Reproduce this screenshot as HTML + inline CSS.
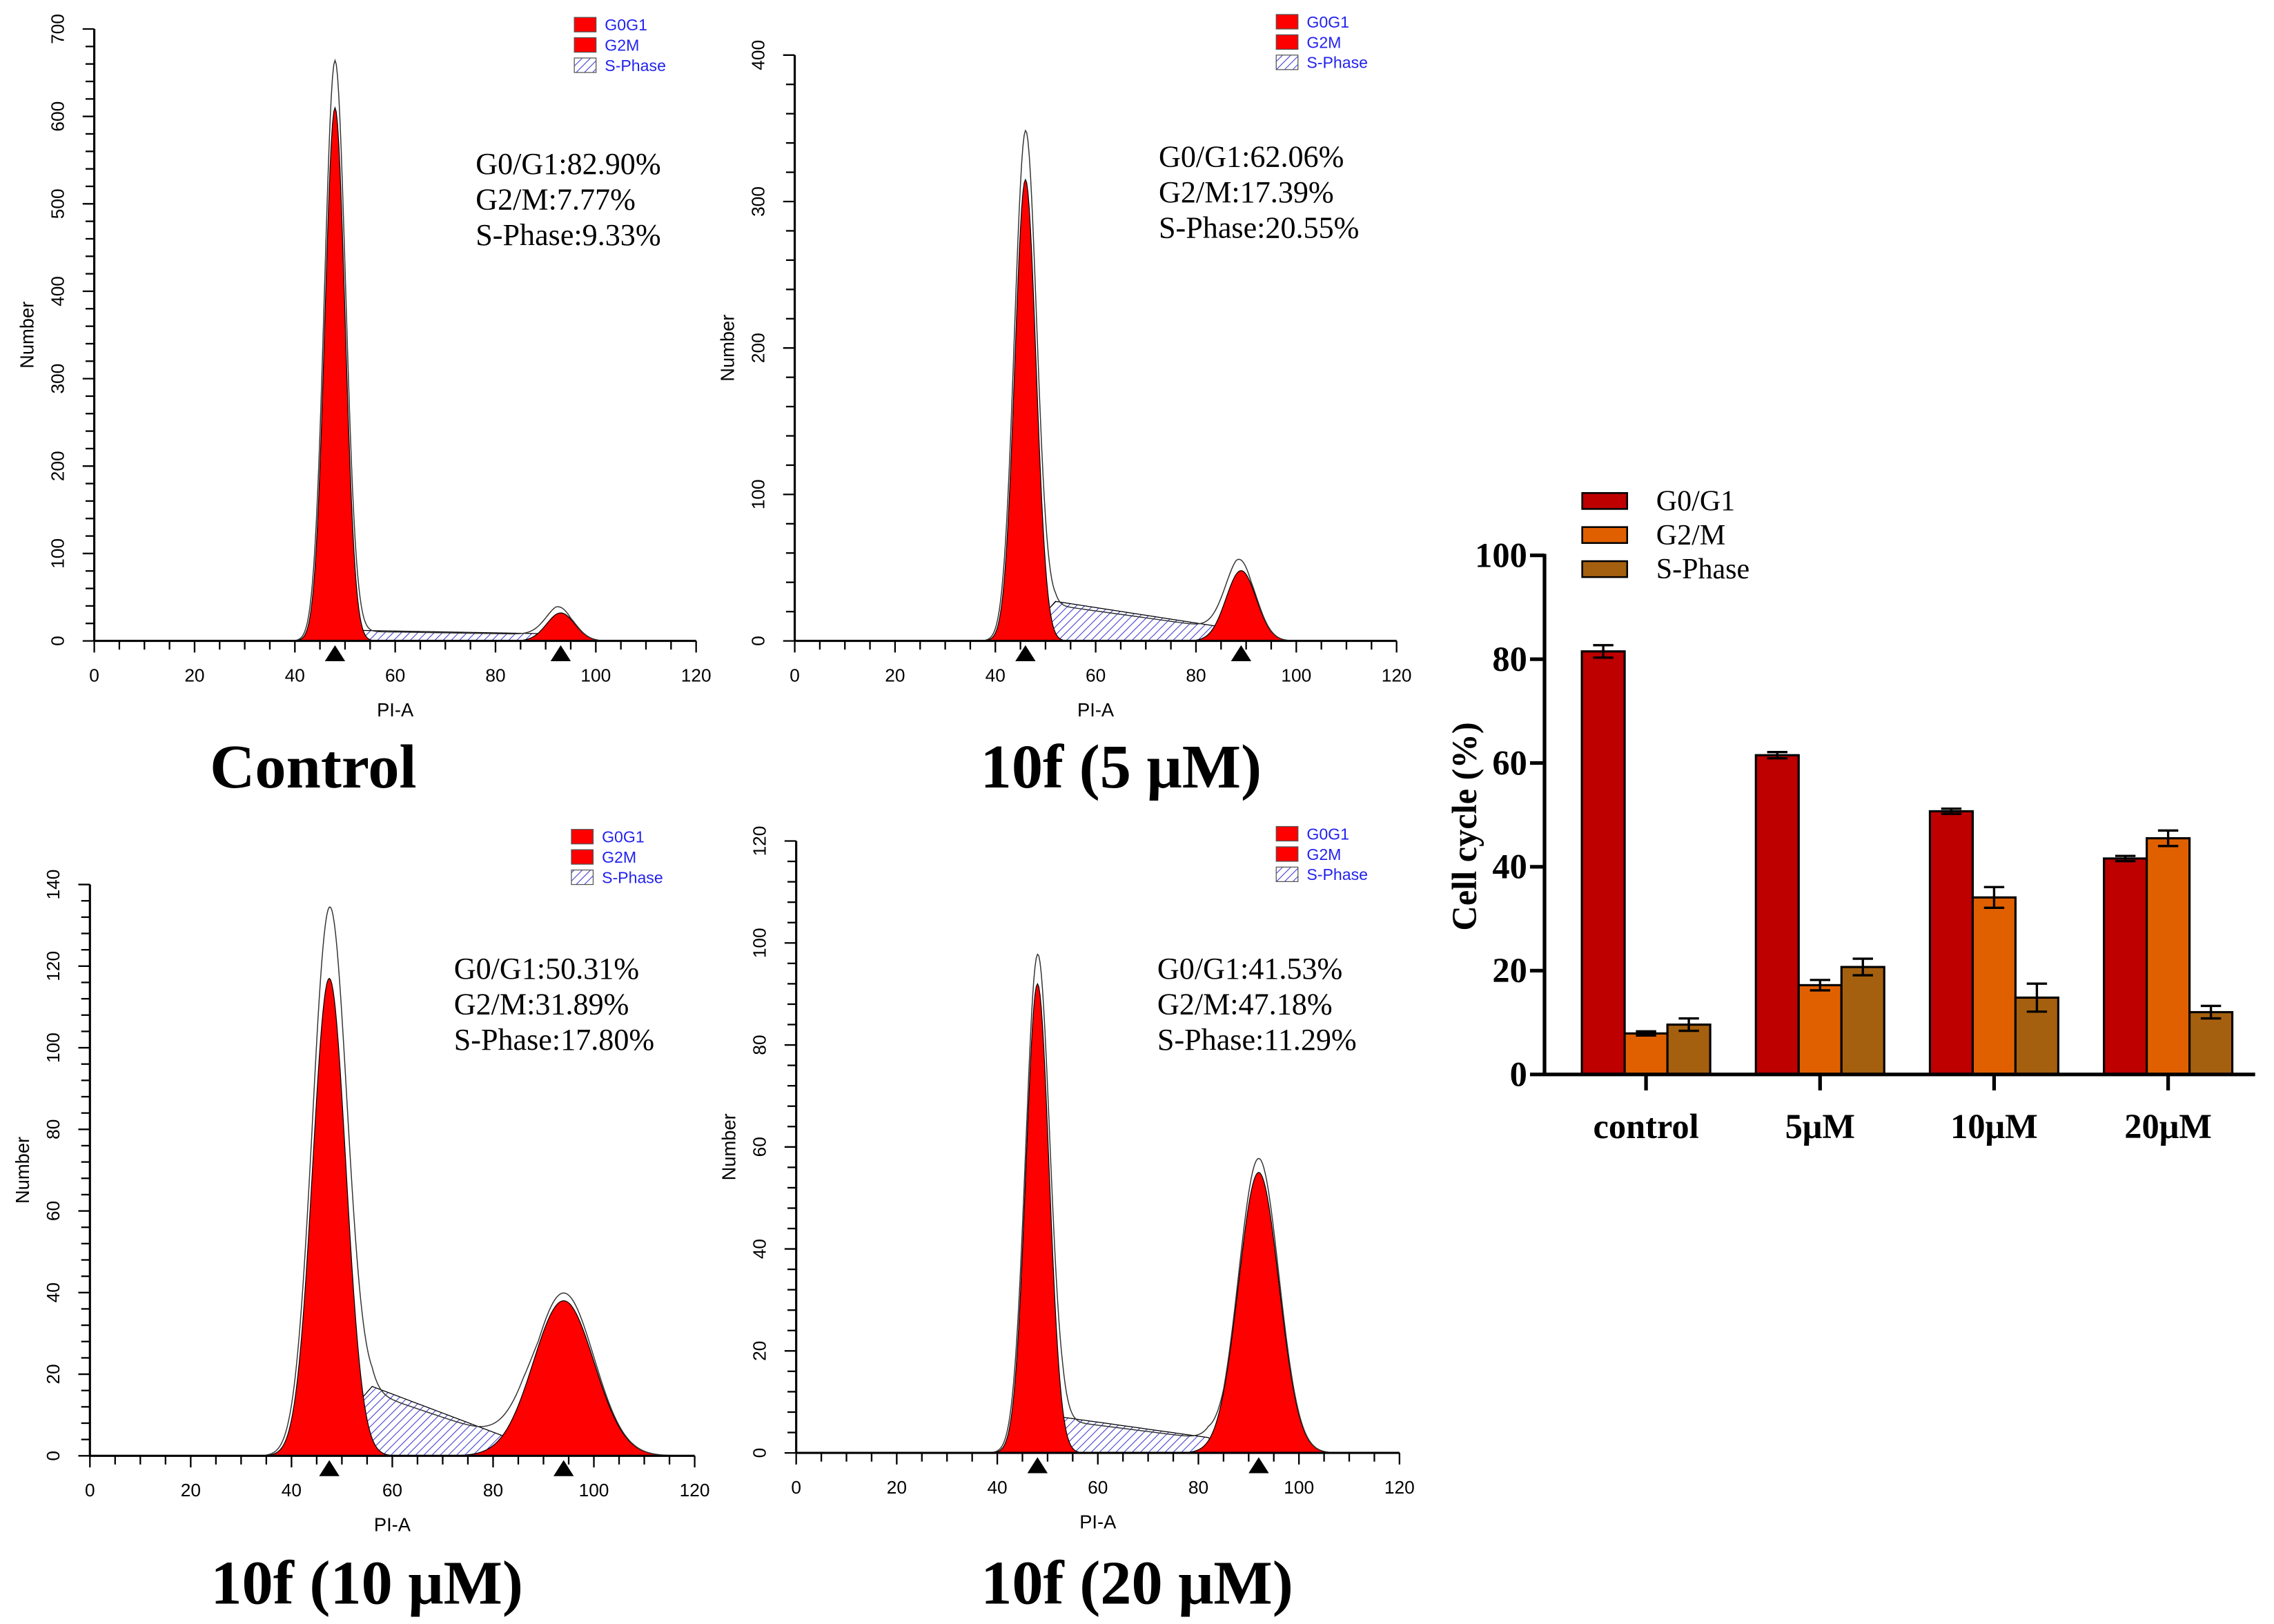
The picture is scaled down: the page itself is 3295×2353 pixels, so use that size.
<!DOCTYPE html>
<html><head><meta charset="utf-8"><style>
html,body{margin:0;padding:0;background:#fff;width:3295px;height:2353px;overflow:hidden}
svg{display:block}
</style></head><body>
<svg id="fig" xmlns="http://www.w3.org/2000/svg" width="3295" height="2353" viewBox="0 0 1568 1120" preserveAspectRatio="none">
<defs>
<pattern id="hatch" patternUnits="userSpaceOnUse" width="4" height="4" patternTransform="rotate(45)">
<rect width="4" height="4" fill="#fff"/><line x1="0" y1="0" x2="0" y2="4" stroke="#3b3bd0" stroke-width="1"/>
</pattern>
</defs>
<g id="root"></g>
</svg>
<script>
// ---- Histogram panel data ----
const panelTitles = ["Control", "10f (5 μM)", "10f (10 μM)", "10f (20 μM)"];
const statG1 = ["G0/G1:82.90%", "G0/G1:62.06%", "G0/G1:50.31%", "G0/G1:41.53%"];
const statG2 = ["G2/M:7.77%", "G2/M:17.39%", "G2/M:31.89%", "G2/M:47.18%"];
const statS = ["S-Phase:9.33%", "S-Phase:20.55%", "S-Phase:17.80%", "S-Phase:11.29%"];
const yMax = [700, 400, 140, 120];
const yStep = [100, 100, 20, 20];
const g1Mean = [48, 46, 47.5, 48];
const g1Height = [610, 315, 117, 92];
const g1Sigma = [2.0, 2.1, 3.3, 2.3];
const g1RawPeak = [660, 345, 130, 96];
const g2Mean = [93, 89, 94, 92];
const g2Height = [32, 48, 38, 55];
const g2Sigma = [2.8, 3.0, 6.0, 4.0];
const sStart = [45, 45, 44, 46];
const sTop = [12, 27, 17, 7];
const sTopAt = [53, 52, 56, 53];
const sEnd = [92, 88, 86, 82];
const sEndLevel = [8, 8, 3, 3];

// ---- Bar chart data ----
const groups = ["control", "5μM", "10μM", "20μM"];
const seriesNames = ["G0/G1", "G2/M", "S-Phase"];
const g0g1 = [81.5, 61.5, 50.7, 41.6];
const g0g1Err = [1.2, 0.6, 0.5, 0.5];
const g2m = [7.9, 17.2, 34.1, 45.5];
const g2mErr = [0.4, 1.0, 2.0, 1.5];
const sPhase = [9.6, 20.7, 14.8, 12.0];
const sPhaseErr = [1.2, 1.6, 2.7, 1.2];
const barTicks = [0, 20, 40, 60, 80, 100];

const NS = "http://www.w3.org/2000/svg";
const root = document.getElementById("root");
function mk(tag, attrs, parent, text) {
  const e = document.createElementNS(NS, tag);
  for (const k in attrs) e.setAttribute(k, attrs[k]);
  if (text !== undefined) e.textContent = text;
  (parent || root).appendChild(e);
  return e;
}
const layout = [
  {x0: 65, x1: 480, y0: 442, yt: 20, title: [216, 543], stat: [328, 120], leg: [396, 12]},
  {x0: 548, x1: 963, y0: 442, yt: 38, title: [773, 543], stat: [799, 115], leg: [880, 10]},
  {x0: 62, x1: 479, y0: 1004, yt: 610, title: [253, 1106], stat: [313, 675], leg: [394, 572]},
  {x0: 549, x1: 965, y0: 1002, yt: 580, title: [784, 1106], stat: [798, 675], leg: [880, 570]}
];
function gauss(x, m, h, s) { return h * Math.exp(-0.5 * ((x - m) / s) ** 2); }
function sVal(i, x) {
  if (x < sStart[i] || x > sEnd[i] + 3) return 0;
  if (x < sTopAt[i]) return sTop[i] * (x - sStart[i]) / (sTopAt[i] - sStart[i]);
  if (x <= sEnd[i]) return sTop[i] + (sEndLevel[i] - sTop[i]) * (x - sTopAt[i]) / (sEnd[i] - sTopAt[i]);
  return sEndLevel[i] * (1 - (x - sEnd[i]) / 3);
}
layout.forEach((L, i) => {
  const g = mk("g", {}, root);
  
  
  const X = v => L.x0 + (L.x1 - L.x0) * v / 120;
  const Y = v => L.y0 - (L.y0 - L.yt) * v / yMax[i];
  const xs = []; for (let x = 35; x <= 118; x += 0.25) xs.push(x);
  const area = f => "M" + xs.map(x => X(x).toFixed(2) + "," + Y(f(x)).toFixed(2)).join("L") + "Z";
  const line = f => "M" + xs.map(x => X(x).toFixed(2) + "," + Y(f(x)).toFixed(2)).join("L");
  const s = mk("path", {d: area(x => sVal(i, x)), fill: "url(#hatch)", stroke: "#000", "stroke-width": 0.6}, g);
  
  
  const a = mk("path", {d: area(x => gauss(x, g1Mean[i], g1Height[i], g1Sigma[i])), fill: "#ff0000", stroke: "#000", "stroke-width": 0.6}, g);
  
  
  const b = mk("path", {d: area(x => gauss(x, g2Mean[i], g2Height[i], g2Sigma[i])), fill: "#ff0000", stroke: "#000", "stroke-width": 0.6}, g);
  
  
  const raw = mk("path", {d: line(x => gauss(x, g1Mean[i], g1RawPeak[i], g1Sigma[i] * 1.05) + gauss(x, g2Mean[i], g2Height[i] * 1.05, g2Sigma[i]) + sVal(i, x) * 0.9), fill: "none", stroke: "#333", "stroke-width": 0.7}, g);
  
  
  // axes
  mk("line", {x1: L.x0, y1: L.y0, x2: L.x1, y2: L.y0, stroke: "#000", "stroke-width": 1.5}, g);
  mk("line", {x1: L.x0, y1: L.y0, x2: L.x0, y2: L.yt, stroke: "#000", "stroke-width": 1.5}, g);
  for (let v = 0; v <= 120; v += 5) {
    mk("line", {x1: X(v), y1: L.y0, x2: X(v), y2: L.y0 + (v % 20 === 0 ? 8 : 6), stroke: "#000", "stroke-width": 1.1}, g);
    if (v % 20 === 0) {
      const t = mk("text", {x: X(v), y: L.y0 + 28, "font-size": 12.5, "text-anchor": "middle", "font-family": "Liberation Sans, sans-serif"}, g, String(v));
      
      
    }
  }
  const minor = yStep[i] / 5;
  for (let v = 0; v <= yMax[i]; v += minor) {
    const major = Math.abs(v / yStep[i] - Math.round(v / yStep[i])) < 1e-6;
    mk("line", {x1: L.x0, y1: Y(v), x2: L.x0 - (major ? 8 : 6), y2: Y(v), stroke: "#000", "stroke-width": 1.1}, g);
    if (major) {
      const t = mk("text", {x: 0, y: 0, "font-size": 12.5, "text-anchor": "middle", "font-family": "Liberation Sans, sans-serif", transform: `translate(${L.x0 - 21},${Y(v)}) rotate(-90)`}, g, String(Math.round(v)));
      
      
    }
  }
  const yl = mk("text", {x: 0, y: 0, "font-size": 13, "text-anchor": "middle", "font-family": "Liberation Sans, sans-serif", transform: `translate(${L.x0 - 42},${(L.y0 + L.yt) / 2}) rotate(-90)`}, g, "Number");
  
  
  const xl = mk("text", {x: (L.x0 + L.x1) / 2, y: L.y0 + 52, "font-size": 13, "text-anchor": "middle", "font-family": "Liberation Sans, sans-serif"}, g, "PI-A");
  
  
  [g1Mean[i], g2Mean[i]].forEach(m => {
    const tri = mk("path", {d: `M${X(m) - 7},${L.y0 + 14}L${X(m) + 7},${L.y0 + 14}L${X(m)},${L.y0 + 3}Z`, fill: "#000"}, g);
    
    
  });
  // legend
  const lg = ["G0G1", "G2M", "S-Phase"];
  lg.forEach((n, k) => {
    const ly = L.leg[1] + k * 14;
    const r = mk("rect", {x: L.leg[0], y: ly, width: 15, height: 10, fill: k < 2 ? "#ff0000" : "url(#hatch)", stroke: "#555", "stroke-width": 0.6}, g);
    
    
    const t = mk("text", {x: L.leg[0] + 21, y: ly + 9, "font-size": 11, fill: "#2222ee", "font-family": "Liberation Sans, sans-serif"}, g, n);
    
    
  });
  [statG1[i], statG2[i], statS[i]].forEach((s, k) => {
    const t = mk("text", {x: L.stat[0], y: L.stat[1] + k * 24.5, "font-size": 21, "font-family": "Liberation Serif, serif"}, g, s);
    
    
  });
  const tt = mk("text", {x: L.title[0], y: L.title[1], "font-size": 43, "font-weight": "bold", "text-anchor": "middle", "font-family": "Liberation Serif, serif"}, g, panelTitles[i]);
  
  
});

// ---- Bar chart ----
(function () {
  const g = mk("g", {}, root);
  
  
  const bx0 = 1065, bx1 = 1555, by0 = 741, by100 = 383;
  const Y = v => by0 - (by0 - by100) * v / 100;
  const groupW = 120, firstC = 1135, bw = 29.5;
  const colors = ["#be0000", "#e06000", "#a5600f"];
  const vals = [g0g1, g2m, sPhase], errs = [g0g1Err, g2mErr, sPhaseErr];
  groups.forEach((name, gi) => {
    const c = firstC + gi * groupW;
    vals.forEach((arr, si) => {
      const x = c - 1.5 * bw + si * bw;
      const r = mk("rect", {x: x, y: Y(arr[gi]), width: bw, height: Y(0) - Y(arr[gi]), fill: colors[si], stroke: "#000", "stroke-width": 1.5}, g);
      
      
      const cx = x + bw / 2, e = errs[si][gi];
      const eb = mk("path", {d: `M${cx},${Y(arr[gi] + e)}L${cx},${Y(arr[gi] - e)}M${cx - 7},${Y(arr[gi] + e)}L${cx + 7},${Y(arr[gi] + e)}M${cx - 7},${Y(arr[gi] - e)}L${cx + 7},${Y(arr[gi] - e)}`, stroke: "#000", "stroke-width": 1.6, fill: "none"}, g);
      
      
    });
    mk("line", {x1: c, y1: by0, x2: c, y2: by0 + 11, stroke: "#000", "stroke-width": 2.5}, g);
    const t = mk("text", {x: c, y: by0 + 44, "font-size": 24, "font-weight": "bold", "text-anchor": "middle", "font-family": "Liberation Serif, serif"}, g, name);
    
    
  });
  mk("line", {x1: bx0, y1: by0, x2: bx1, y2: by0, stroke: "#000", "stroke-width": 2.5}, g);
  mk("line", {x1: bx0, y1: by0 + 1, x2: bx0, y2: by100 - 1, stroke: "#000", "stroke-width": 2.5}, g);
  barTicks.forEach(v => {
    mk("line", {x1: bx0, y1: Y(v), x2: bx0 - 10, y2: Y(v), stroke: "#000", "stroke-width": 2.5}, g);
    const t = mk("text", {x: bx0 - 12, y: Y(v) + 8, "font-size": 24, "font-weight": "bold", "text-anchor": "end", "font-family": "Liberation Serif, serif"}, g, String(v));
    
    
  });
  const yl = mk("text", {x: 0, y: 0, "font-size": 24, "font-weight": "bold", "text-anchor": "middle", "font-family": "Liberation Serif, serif", transform: "translate(1018,570) rotate(-90)"}, g, "Cell cycle (%)");
  
  
  seriesNames.forEach((n, k) => {
    const ly = 340 + k * 23.5;
    const r = mk("rect", {x: 1091, y: ly, width: 31, height: 11, fill: colors[k], stroke: "#000", "stroke-width": 1.2}, g);
    
    
    const t = mk("text", {x: 1142, y: ly + 12, "font-size": 20, "font-family": "Liberation Serif, serif"}, g, n);
    
    
  });
})();
</script>
</body></html>
